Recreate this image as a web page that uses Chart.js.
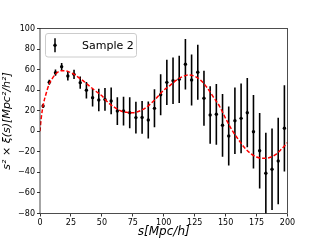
<!DOCTYPE html>
<html><head><meta charset="utf-8">
<script src="https://cdn.jsdelivr.net/npm/chart.js@4"></script>
<style>html,body{margin:0;padding:0;background:#fff;}#wrap{width:320px;height:240px;}</style>
</head><body><div id="wrap"><canvas id="c" width="320" height="240"></canvas></div>
<script>
// ---- data ----
const sepBins = [2.5,7.5,12.5,17.5,22.5,27.5,32.5,37.5,42.5,47.5,52.5,57.5,62.5,67.5,72.5,77.5,82.5,87.5,92.5,97.5,
  102.5,107.5,112.5,117.5,122.5,127.5,132.5,137.5,142.5,147.5,152.5,157.5,162.5,167.5,172.5,177.5,182.5,187.5,192.5,197.5];
const xiValues = [24.6,47.7,57,62.9,53.8,55.4,47.3,40,32.7,30.4,31,29.5,19.7,19.7,18,13.3,13.5,11,22.3,35.5,
  47.6,49.2,50.6,65.2,49.9,57.4,32.1,15.9,16.5,5.8,-4.6,10.3,12.6,18.1,-0.4,-18.9,-40.9,-37,-28.9,2.9];
const xiErrors = [2,2.5,3,3.5,4.5,4.5,6,8,8.5,11,11,13,13.5,14,15,15.5,16,18,18.5,20,
  22,22.7,23,24.6,24.8,26.7,26.7,28,29.5,30.5,28.7,32.4,34,33.7,35.7,36.8,39.5,39.6,42,42];
const modelS  = [0,1,2.5,5,7.5,10,12.5,15,17.5,20,22.5,25,27.5,30,35,40,45,50,55,60,65,70,75,80,85,90,95,100,
  105,110,115,120,125,130,135,140,145,150,155,160,165,170,175,180,185,190,195,200];
const modelXi = [0,13,25,37,46,51.5,55.5,58,59,59,58.3,57,55.5,53.5,49,44,39,34.5,28,23.5,20,18.5,18,19.5,22.5,27.5,33.5,40,
  44.5,49.5,53,54.8,53.5,49.5,42.5,33.5,24.5,12.5,1.5,-7.5,-15.5,-21.5,-25,-26.3,-25.7,-23,-17.5,-11];
const xTicks = [0,25,50,75,100,125,150,175,200];
const yTicks = [-80,-60,-40,-20,0,20,40,60,80,100];
const seriesLabel = 'Sample 2';
const xTitle = 's[Mpc/h]';
const yTitle = 's\u00B2 \u00D7 \u03BE(s)[Mpc\u00B2/h\u00B2]';

// ---- build datasets ----
const points = sepBins.map((s,i)=>({x:s,y:xiValues[i]}));
const errSegs = [];
sepBins.forEach((s,i)=>{
  errSegs.push({x:s,y:xiValues[i]-xiErrors[i]},{x:s,y:xiValues[i]+xiErrors[i]},{x:s,y:null});
});
const model = modelS.map((s,i)=>({x:s,y:modelXi[i]}));

Chart.defaults.font.family = 'DejaVu Sans';
Chart.defaults.color = '#000';

const legendPlugin = {
  id:'mplLegend',
  afterDatasetsDraw(chart){
    const ctx = chart.ctx, a = chart.chartArea;
    const x0 = a.left+5.5, y0 = a.top+5, w = 91, h = 23.5, r = 2.5;
    ctx.save();
    ctx.beginPath();
    ctx.moveTo(x0+r,y0); ctx.lineTo(x0+w-r,y0); ctx.quadraticCurveTo(x0+w,y0,x0+w,y0+r);
    ctx.lineTo(x0+w,y0+h-r); ctx.quadraticCurveTo(x0+w,y0+h,x0+w-r,y0+h);
    ctx.lineTo(x0+r,y0+h); ctx.quadraticCurveTo(x0,y0+h,x0,y0+h-r);
    ctx.lineTo(x0,y0+r); ctx.quadraticCurveTo(x0,y0,x0+r,y0); ctx.closePath();
    ctx.fillStyle = 'rgba(255,255,255,0.8)'; ctx.fill();
    ctx.strokeStyle = '#cccccc'; ctx.lineWidth = 1; ctx.stroke();
    const cy = y0 + h/2;
    const mx = x0 + 9.5;
    ctx.strokeStyle = '#000'; ctx.lineWidth = 1.5;
    ctx.beginPath(); ctx.moveTo(mx, cy-7); ctx.lineTo(mx, cy+7); ctx.stroke();
    ctx.fillStyle = '#000'; ctx.beginPath(); ctx.arc(mx, cy, 1.7, 0, Math.PI*2); ctx.fill();
    ctx.font = '11px "DejaVu Sans"'; ctx.textBaseline = 'middle'; ctx.textAlign = 'left';
    ctx.fillText(seriesLabel, x0+36.5, cy+0.5);
    ctx.restore();
  }
};
const framePlugin = {
  id:'frame',
  afterDraw(chart){
    const ctx = chart.ctx, a = chart.chartArea;
    ctx.save(); ctx.strokeStyle = '#222'; ctx.lineWidth = 0.8;
    ctx.strokeRect(a.left, a.top, a.right-a.left, a.bottom-a.top);
    ctx.restore();
  }
};

new Chart(document.getElementById('c'), {
  type:'scatter',
  data:{datasets:[
    {label:'model', data:model, showLine:true, borderColor:'#ff0000', borderWidth:1.5, borderDash:[4,2],
     pointRadius:0, cubicInterpolationMode:'monotone', order:0},
    {label:'errors', data:errSegs, showLine:true, spanGaps:false, borderColor:'#000', borderWidth:1.6,
     pointRadius:0, order:2},
    {label:seriesLabel, data:points, backgroundColor:'#000', borderColor:'#000', pointRadius:1.7, pointBorderWidth:0, order:1}
  ]},
  options:{
    responsive:false, animation:false, devicePixelRatio:1,
    layout:{padding:{left:0, top:28.5, right:32.5, bottom:0}},
    plugins:{legend:{display:false}, tooltip:{enabled:false}},
    scales:{
      x:{type:'linear', min:0, max:200,
        afterBuildTicks:s=>{s.ticks = xTicks.map(v=>({value:v}));},
        afterFit:s=>{s.height = 26.5;},
        grid:{drawOnChartArea:false, tickLength:3, color:'#000', tickWidth:0.8},
        border:{display:false},
        ticks:{font:{size:8}, padding:2, maxRotation:0, callback:v=>String(v)},
        title:{display:true, text:xTitle, font:{size:12, style:'italic'}, padding:{top:0,bottom:1}}
      },
      y:{type:'linear', min:-80, max:100,
        afterBuildTicks:s=>{s.ticks = yTicks.map(v=>({value:v}));},
        afterFit:s=>{s.width = 40;},
        grid:{drawOnChartArea:false, tickLength:3, color:'#000', tickWidth:0.8},
        border:{display:false},
        ticks:{font:{size:8}, padding:2, callback:v=>String(v).replace('-','\u2212')},
        title:{display:true, text:yTitle, font:{size:11, style:'italic'}, padding:{top:1,bottom:0}}
      }
    }
  },
  plugins:[legendPlugin, framePlugin]
});
</script></body></html>
